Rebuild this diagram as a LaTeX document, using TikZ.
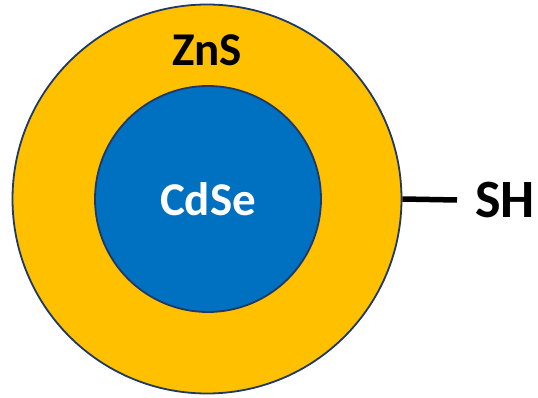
\documentclass[tikz,border=0pt]{standalone}
\usepackage{fontspec}
\setmainfont{Carlito}
\definecolor{shellyellow}{HTML}{FFC000}
\definecolor{coreblue}{HTML}{0070C0}
\definecolor{rimnavy}{HTML}{1F3864}
\tikzset{
  sphere/.style={draw=rimnavy, line width=1.8pt, circle, inner sep=0pt},
  bigbold/.style={font=\fontsize{47}{47}\selectfont\bfseries}
}
\begin{document}
\begin{tikzpicture}[x=1pt, y=1pt]
\useasboundingbox (0,0) rectangle (538,397);

% --- shell and core ---
\node (shell) [sphere, fill=shellyellow, minimum size=389pt] at (207,198) {};
\node (core) [sphere, fill=coreblue, minimum size=226pt, text=white, bigbold] at (208,198) {CdSe};
\node (shell_label) [bigbold] at (207,347) {ZnS};

% --- thiol ligand ---
\node (ligand) [anchor=west, inner xsep=18pt, inner ysep=0pt, font=\fontsize{54}{54}\selectfont\bfseries] at (457,197) {SH};
\draw[line width=5.5pt] (shell.east) -- (ligand.west);

\end{tikzpicture}
\end{document}
